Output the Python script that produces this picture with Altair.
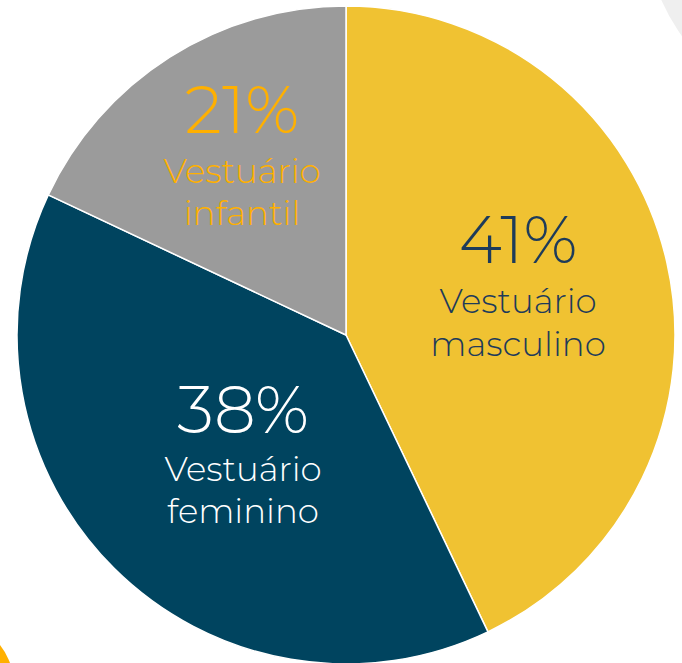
import altair as alt
import pandas as pd

# --- data ---
categories = ["Vestuário masculino", "Vestuário feminino", "Vestuário infantil"]
label_pct = ["41%", "38%", "21%"]
# slice sizes as drawn (angles measured on the picture, in percent)
drawn_share = [42.9, 39.1, 18.0]
name_line1 = ["Vestuário", "Vestuário", "Vestuário"]
name_line2 = ["masculino", "feminino", "infantil"]

# --- styling / layout (kept apart from the data) ---
slice_colors = ["#F0C232", "#00445F", "#9B9B9B"]
text_colors = ["#1E3B5A", "#FFFFFF", "#FFB000"]
label_x = [518, 243, 242]
pct_baseline = [263, 433, 133]
line1_baseline = [313, 481, 183]
line2_baseline = [356, 523, 225]

W, H = 682, 663
CX, CY, R = 346, 335, 329

pie_df = pd.DataFrame({
    "category": categories,
    "share": drawn_share,
    "order": list(range(len(categories))),
})

lab_df = pd.DataFrame({
    "category": categories,
    "pct": label_pct,
    "l1": name_line1,
    "l2": name_line2,
    "x": label_x,
    "y0": pct_baseline,
    "y1": line1_baseline,
    "y2": line2_baseline,
    "tc": text_colors,
})

deco_df = pd.DataFrame({"k": ["a"]})

# decorative light-grey shape top-right
deco_grey = alt.Chart(deco_df).mark_arc(color="#EFEFEF").encode(
    x=alt.value(847), y=alt.value(-82), radius=alt.value(203),
    theta=alt.value(0), theta2=alt.value(6.2832),
)
# decorative orange corner bottom-left
deco_orange = alt.Chart(deco_df).mark_arc(color="#FFB000").encode(
    x=alt.value(-49), y=alt.value(684), radius=alt.value(62.6),
    theta=alt.value(0), theta2=alt.value(6.2832),
)

pie = alt.Chart(pie_df).mark_arc(stroke="#FFFFFF", strokeWidth=1.5).encode(
    theta=alt.Theta("share:Q", stack=True),
    order=alt.Order("order:Q", sort="ascending"),
    color=alt.Color("category:N", scale=alt.Scale(domain=categories, range=slice_colors), legend=None),
    x=alt.value(CX), y=alt.value(CY), radius=alt.value(R),
)

FONT = "Montserrat, Lato, Open Sans"
base = alt.Chart(lab_df)
t_pct = base.mark_text(font=FONT, fontSize=66, fontWeight=300, baseline="alphabetic", align="center").encode(
    x=alt.X("x:Q", scale=None), y=alt.Y("y0:Q", scale=None), text="pct:N",
    color=alt.Color("tc:N", scale=None),
)
t_l1 = base.mark_text(font=FONT, fontSize=34, fontWeight=300, baseline="alphabetic", align="center").encode(
    x=alt.X("x:Q", scale=None), y=alt.Y("y1:Q", scale=None), text="l1:N",
    color=alt.Color("tc:N", scale=None),
)
t_l2 = base.mark_text(font=FONT, fontSize=34, fontWeight=300, baseline="alphabetic", align="center").encode(
    x=alt.X("x:Q", scale=None), y=alt.Y("y2:Q", scale=None), text="l2:N",
    color=alt.Color("tc:N", scale=None),
)

chart = alt.layer(deco_grey, deco_orange, pie, t_pct, t_l1, t_l2).properties(
    width=W, height=H,
    autosize=alt.AutoSizeParams(type="none"),
    padding=0,
    background="#FFFFFF",
).configure_view(stroke=None)

chart.save("out.html", embed_options={"renderer": "svg", "actions": False})
